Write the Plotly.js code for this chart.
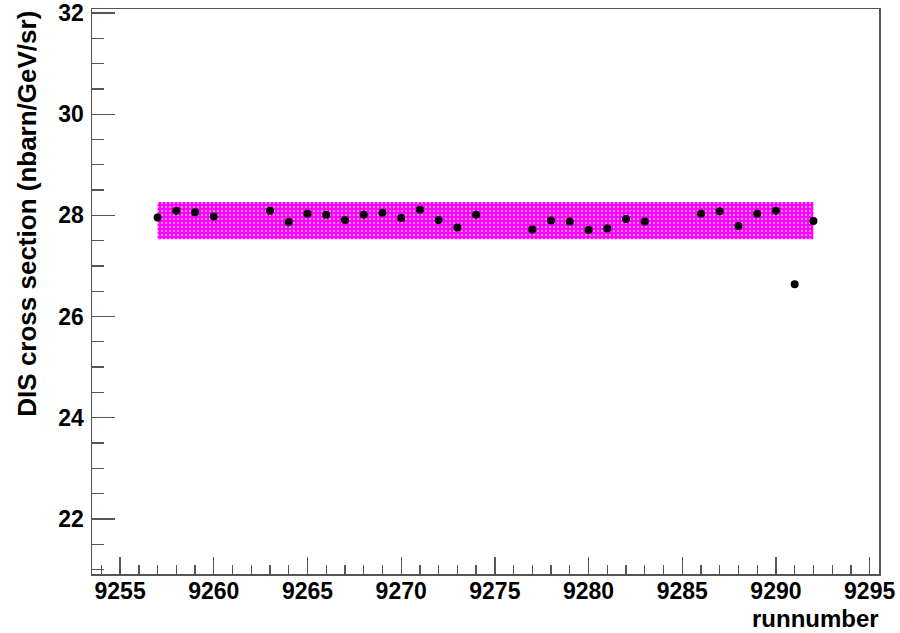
<!DOCTYPE html>
<html>
<head>
<meta charset="utf-8">
<script src="https://cdn.plot.ly/plotly-3.0.1.min.js"></script>
<style>html,body{margin:0;padding:0;background:#fff;}#chart{width:900px;height:633px;}</style>
</head>
<body>
<div id="chart"></div>
<script>
// Run numbers and measured DIS cross sections (nbarn/GeV/sr)
const runs = [9257, 9258, 9259, 9260, 9263, 9264, 9265, 9266, 9267, 9268, 9269, 9270,
              9271, 9272, 9273, 9274, 9277, 9278, 9279, 9280, 9281, 9282, 9283,
              9286, 9287, 9288, 9289, 9290, 9291, 9292];
const xsec = [27.96, 28.09, 28.06, 27.98, 28.09, 27.87, 28.03, 28.01, 27.91, 28.01, 28.05, 27.95,
              28.11, 27.91, 27.76, 28.01, 27.72, 27.90, 27.88, 27.71, 27.74, 27.93, 27.88,
              28.03, 28.08, 27.79, 28.03, 28.09, 26.64, 27.89];
// Band (mean +/- uncertainty) over the run range
const bandRuns = [9257, 9292];
const bandLow = 27.53;
const bandHigh = 28.265;
// Tick labels
const xTicks = [9255, 9260, 9265, 9270, 9275, 9280, 9285, 9290, 9295];
const yTicks = [22, 24, 26, 28, 30, 32];

const axisColor = '#555555';
const fam = 'Liberation Sans, Arial, sans-serif';
const tickFont = {family: fam, size: 23, color: '#000'};

const band = {
  x: [bandRuns[0], bandRuns[1], bandRuns[1], bandRuns[0], bandRuns[0]],
  y: [bandLow, bandLow, bandHigh, bandHigh, bandLow],
  type: 'scatter', mode: 'lines', fill: 'toself',
  line: {width: 0, color: '#ff00ff'},
  fillcolor: '#ff00ff',
  fillpattern: {shape: '.', bgcolor: '#ff00ff', fgcolor: '#ffb0ff', size: 4, solidity: 0.22},
  hoverinfo: 'skip', showlegend: false
};
const pts = {
  x: runs, y: xsec, type: 'scatter', mode: 'markers',
  marker: {color: '#000', size: 8}, showlegend: false
};

const layout = {
  width: 900, height: 633,
  margin: {l: 92, r: 21, t: 9, b: 59},
  paper_bgcolor: '#fff', plot_bgcolor: '#fff',
  showlegend: false,
  xaxis: {
    range: [9253.5, 9295.5], tickmode: 'array', tickvals: xTicks,
    ticktext: xTicks.map(v => '<b>' + v + '</b>'),
    ticks: 'inside', ticklen: 17, tickwidth: 1.3, tickcolor: axisColor,
    minor: {dtick: 1, tick0: 9255, ticks: 'inside', ticklen: 9, tickwidth: 1.3, tickcolor: axisColor, showgrid: false},
    showline: true, linecolor: axisColor, linewidth: 1.5, mirror: true,
    showgrid: false, zeroline: false,
    tickfont: tickFont, ticklabelstandoff: -4
  },
  yaxis: {
    range: [20.91, 32.08], tickmode: 'array', tickvals: yTicks,
    ticktext: yTicks.map(v => '<b>' + v + '</b>'),
    ticks: 'inside', ticklen: 23, tickwidth: 1.3, tickcolor: axisColor,
    minor: {dtick: 0.5, tick0: 21, ticks: 'inside', ticklen: 12, tickwidth: 1.3, tickcolor: axisColor, showgrid: false},
    showline: true, linecolor: axisColor, linewidth: 1.5, mirror: true,
    showgrid: false, zeroline: false,
    tickfont: tickFont, ticklabelstandoff: 2
  },
  annotations: [
    {text: '<b>runnumber</b>', xref: 'paper', yref: 'paper', x: 1.003, y: -0.078,
     xanchor: 'right', yanchor: 'middle', showarrow: false,
     font: {family: fam, size: 24, color: '#000'}},
    {text: '<b>DIS cross section (nbarn/GeV/sr)</b>', xref: 'paper', yref: 'paper',
     x: -0.083, y: 1.0, xanchor: 'center', yanchor: 'top', textangle: -90, showarrow: false,
     font: {family: fam, size: 26, color: '#000'}}
  ]
};

Plotly.newPlot('chart', [band, pts], layout, {displayModeBar: false, staticPlot: true});
</script>
</body>
</html>
